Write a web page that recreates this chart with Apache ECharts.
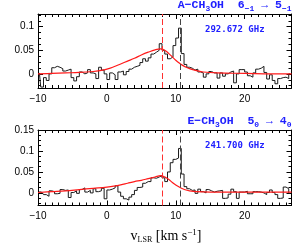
<!DOCTYPE html>
<html><head><meta charset="utf-8">
<script src="https://cdn.jsdelivr.net/npm/echarts@6/dist/echarts.min.js"></script>
<style>html,body{margin:0;padding:0;background:#fff}#c{width:293px;height:243px}</style>
</head><body><div id="c"></div>
<script>
// channel centres (km/s)
const velocity = [
  -9.8,-9.4,-9.0,-8.6,-8.2,-7.8,-7.4,-7.0,-6.6,-6.2,
  -5.8,-5.4,-5.0,-4.6,-4.2,-3.8,-3.4,-3.0,-2.6,-2.2,
  -1.8,-1.4,-1.0,-0.6,-0.2,0.2,0.6,1.0,1.4,1.8,
  2.2,2.6,3.0,3.4,3.8,4.2,4.6,5.0,5.4,5.8,
  6.2,6.6,7.0,7.4,7.8,8.2,8.6,9.0,9.4,9.8,
  10.2,10.6,11.0,11.4,11.8,12.2,12.6,13.0,13.4,13.8,
  14.2,14.6,15.0,15.4,15.8,16.2,16.6,17.0,17.4,17.8,
  18.2,18.6,19.0,19.4,19.8,20.2,20.6,21.0,21.4,21.8,
  22.2,22.6,23.0,23.4,23.8,24.2,24.6,25.0,25.4,25.8,
  26.2,26.6
];
// A-CH3OH 6(-1)-5(-1) spectrum
const specA = [
  0.002,-0.028,-0.008,-0.014,0.000,0.013,0.016,0.014,0.011,0.006,
  0.008,0.010,-0.008,-0.015,-0.006,0.004,0.000,0.002,0.009,0.002,
  0.000,-0.010,0.014,0.008,0.000,-0.012,0.002,-0.002,-0.012,0.004,
  0.006,-0.002,0.005,0.010,0.014,0.016,0.018,0.024,0.032,0.027,
  0.034,0.042,0.046,0.050,0.064,0.050,0.042,0.032,0.036,0.060,
  0.076,0.097,0.043,0.020,0.014,0.012,0.008,0.010,0.004,0.002,
  -0.007,0.000,0.005,0.002,0.002,-0.009,0.002,-0.005,0.000,0.004,
  0.006,-0.019,0.000,0.009,0.009,0.004,-0.004,-0.007,0.002,0.010,
  0.012,0.016,0.003,-0.011,-0.002,-0.014,-0.021,-0.010,-0.008,-0.007,
  -0.010,0.000
];
// E-CH3OH 5(0)-4(0) spectrum
const specE = [
  0.003,0.001,-0.004,-0.008,0.005,0.003,-0.002,-0.001,0.008,0.006,
  0.007,-0.011,0.001,0.005,-0.001,0.008,0.012,0.002,0.006,0.000,
  0.010,0.003,0.005,0.011,-0.014,0.007,0.009,0.012,0.017,0.002,
  -0.008,-0.014,-0.017,-0.010,-0.004,0.006,0.013,0.014,0.023,0.027,
  0.027,0.036,0.035,0.038,0.041,0.036,0.027,0.050,0.072,0.080,
  0.083,0.106,0.045,0.015,0.010,0.006,0.007,-0.001,0.009,0.003,
  0.000,0.008,0.005,0.002,0.004,0.005,0.006,-0.013,-0.012,-0.003,
  0.009,0.003,-0.013,0.002,0.002,0.004,-0.002,-0.002,0.003,0.003,
  0.002,0.000,-0.004,0.001,0.007,0.001,-0.004,-0.013,-0.012,0.014,
  0.010,-0.001
];
// red model curves
const fitVelA = [-10,-8,-6,-4,-2,-1,0,1,2,3,4,5,6,7,7.8,8.5,9,9.5,10,10.5,11,11.5,12,13,14,16,20,24,26.8];
const fitA    = [0.000,0.001,0.002,0.003,0.005,0.007,0.010,0.015,0.021,0.027,0.033,0.040,0.046,0.051,0.053,0.049,0.043,0.036,0.029,0.023,0.018,0.014,0.011,0.007,0.004,0.002,0.001,0.000,0.000];
const fitVelE = [-10,-8,-6,-4,-2,0,1,2,3,4,5,6,7,7.8,8.5,9,9.5,10,10.5,11,11.5,12,13,15,20,26.8];
const fitE    = [0.001,0.003,0.005,0.008,0.011,0.014,0.016,0.019,0.023,0.027,0.030,0.034,0.038,0.041,0.037,0.032,0.025,0.019,0.014,0.010,0.007,0.005,0.003,0.002,0.002,0.002];
const vRed = 8.0;
const vBlack = 10.7;
const xMajor = [-10,0,10,20];
const xMinor = [-10,-9,-8,-7,-6,-5,-4,-3,-2,-1,0,1,2,3,4,5,6,7,8,9,10,11,12,13,14,15,16,17,18,19,20,21,22,23,24,25,26];
const yMajorA = [0,0.05,0.1];
const yMinorA = [-0.025,-0.0125,0,0.0125,0.025,0.0375,0.05,0.0625,0.075,0.0875,0.1,0.1125,0.125];
const yMajorE = [0,0.05,0.1,0.15];
const yMinorE = [-0.025,-0.0125,0,0.0125,0.025,0.0375,0.05,0.0625,0.075,0.0875,0.1,0.1125,0.125,0.1375,0.15];
const freqA = '292.672 GHz';
const freqE = '241.700 GHz';

const X_MIN = -10, X_MAX = 26.8;
const grids = [
  {left:38, top:14, width:253.5, height:74},
  {left:38, top:130, width:253.5, height:75.5}
];
const yRanges = [[-0.03,0.127],[-0.03,0.15]];
const yMaj = [yMajorA, yMajorE], yMin = [yMinorA, yMinorE];

const lab = {fontFamily:'Liberation Sans', fontSize:10, color:'#000'};
const xAxes = [], yAxes = [];
function xFmt(v){ return v < 0 ? '\u2212' + Math.abs(v) : String(v); }
function yFmt(v){ return v === 0 ? '0' : String(v); }
[0,1].forEach(g => {
  ['bottom','top'].forEach(pos => {
    xAxes.push({gridIndex:g, type:'value', min:X_MIN, max:X_MAX, position:pos,
      axisLine:{show:true, onZero:false, lineStyle:{color:'#000', width:1}},
      axisTick:{show:true, inside:true, length:5, customValues:xMajor, lineStyle:{color:'#000'}},
      axisLabel: pos==='bottom' ? Object.assign({show:true, customValues:xMajor, formatter:xFmt, margin:6}, lab) : {show:false},
      splitLine:{show:false}});
    xAxes.push({gridIndex:g, type:'value', min:X_MIN, max:X_MAX, position:pos,
      axisLine:{show:false, onZero:false},
      axisTick:{show:true, inside:true, length:3, customValues:xMinor, lineStyle:{color:'#000'}},
      axisLabel:{show:false}, splitLine:{show:false}});
  });
  ['left','right'].forEach(pos => {
    yAxes.push({gridIndex:g, type:'value', min:yRanges[g][0], max:yRanges[g][1], position:pos,
      axisLine:{show:true, onZero:false, lineStyle:{color:'#000', width:1}},
      axisTick:{show:true, inside:true, length:5, customValues:yMaj[g], lineStyle:{color:'#000'}},
      axisLabel: pos==='left' ? Object.assign({show:true, customValues:yMaj[g], formatter:yFmt, margin:4}, lab) : {show:false},
      splitLine:{show:false}});
    yAxes.push({gridIndex:g, type:'value', min:yRanges[g][0], max:yRanges[g][1], position:pos,
      axisLine:{show:false, onZero:false},
      axisTick:{show:true, inside:true, length:3, customValues:yMin[g], lineStyle:{color:'#000'}},
      axisLabel:{show:false}, splitLine:{show:false}});
  });
});

const specs = [specA, specE];
const fitsV = [fitVelA, fitVelE], fits = [fitA, fitE];
const series = [];
[0,1].forEach(g => {
  series.push({type:'line', xAxisIndex:g*4, yAxisIndex:g*4, step:'middle', symbol:'none',
    data: velocity.map((v,i)=>[v, specs[g][i]]),
    lineStyle:{color:'#1a1a1a', width:1}, z:2,
    markLine:{silent:true, symbol:['none','none'], label:{show:false}, animation:false,
      data:[{xAxis:vRed, lineStyle:{color:'#ff3030', width:1, type:[6,3]}},
            {xAxis:vBlack, lineStyle:{color:'#444', width:1, type:[6,3]}}]}});
  series.push({type:'line', xAxisIndex:g*4, yAxisIndex:g*4, smooth:0.4, symbol:'none',
    data: fitsV[g].map((v,i)=>[v, fits[g][i]]),
    lineStyle:{color:'#ff1a1a', width:1.2}, z:3});
});

const mono = 'Liberation Mono';
const richT = {
  m:{fontFamily:mono, fontSize:11.5, lineHeight:14, color:'#2020ff', verticalAlign:'top'},
  s:{fontFamily:mono, fontSize:8, lineHeight:8, color:'#2020ff', verticalAlign:'bottom'}
};
const freqStyle = {fontFamily:'DejaVu Sans Mono', fontSize:9, fontWeight:'bold', color:'#2020ff', lineHeight:10};

const chart = echarts.init(document.getElementById('c'), null, {renderer:'canvas'});
chart.setOption({
  animation:false,
  backgroundColor:'#fff',
  grid: grids,
  xAxis: xAxes,
  yAxis: yAxes,
  series: series,
  title: [
    {text:'{m|A\u2212CH}{s|3}{m|OH  6}{s|\u22121}{m| \u2192 5}{s|\u22121}', right:1.5, top:-1, padding:0, textStyle:{rich:richT}},
    {text:'{m|E\u2212CH}{s|3}{m|OH  5}{s|0}{m| \u2192 4}{s|0}', right:1.5, top:115, padding:0, textStyle:{rich:richT}},
    {text:freqA, left:205, top:25, padding:0, textStyle:freqStyle},
    {text:freqE, left:205, top:141, padding:0, textStyle:freqStyle}
  ],
  graphic: [
    {type:'text', x:166, y:236, style:{
      text:'{a|v}{b|LSR}{a| [km s}{c|\u22121}{a|]}', align:'center', verticalAlign:'middle',
      rich:{
        a:{fontFamily:'Liberation Serif', fontSize:14, lineHeight:16, fill:'#000', verticalAlign:'middle'},
        b:{fontFamily:'Liberation Serif', fontSize:8, lineHeight:8, fill:'#000', verticalAlign:'bottom'},
        c:{fontFamily:'Liberation Serif', fontSize:9, lineHeight:9, fill:'#000', verticalAlign:'top'}
      }}}
  ]
});
</script></body></html>
